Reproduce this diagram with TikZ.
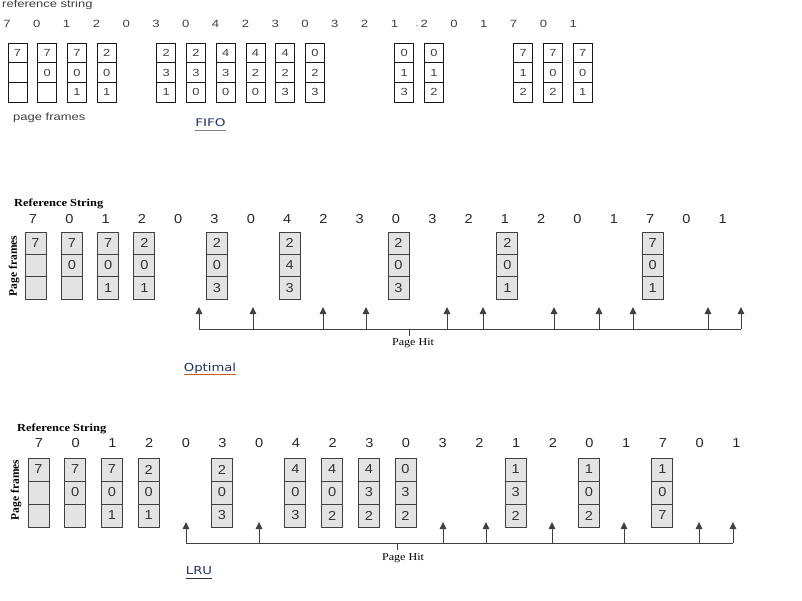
\documentclass[tikz,border=0pt]{standalone}
\usepackage{fontspec}
\usetikzlibrary{arrows.meta}
\newfontfamily\fifof[FakeStretch=1.25]{Liberation Sans}
\newfontfamily\fifolblf[FakeStretch=1.3]{DejaVu Sans}
\newfontfamily\numf[FakeStretch=1.12]{Liberation Sans}
\newfontfamily\serf[FakeStretch=1.15]{Liberation Serif}
\newfontfamily\servf{Liberation Serif}
\newfontfamily\lblf[FakeStretch=1.2]{DejaVu Sans}
\definecolor{navy}{HTML}{1F3468}
\definecolor{ulorange}{HTML}{C0601A}
\definecolor{cellgray}{HTML}{E3E3E3}
\definecolor{linegray}{HTML}{404040}
\begin{document}
\begin{tikzpicture}[x=1pt,y=-1pt,
  fifocell/.style={draw=black!90, line width=0.95pt, fill=white, minimum width=19pt, minimum height=19.67pt, inner sep=0pt, font=\fifof\fontsize{10.3}{11}\selectfont, text=black!75},
  cell/.style={draw=black!75, line width=1pt, fill=cellgray, minimum width=21pt, minimum height=22.33pt, inner sep=0pt, font=\numf\fontsize{13}{13}\selectfont, text=black!80},
  lrucell/.style={cell, minimum height=23pt},
  fifodigit/.style={inner sep=0pt, font=\fifof\fontsize{10.5}{11}\selectfont, text=black!75},
  digit/.style={inner sep=0pt, font=\numf\fontsize{13}{13}\selectfont, text=black!85},
  fifotext/.style={inner sep=0pt, font=\fifof\fontsize{10.4}{11}\selectfont, text=black!75},
  reftext/.style={inner sep=0pt, font=\serf\bfseries\fontsize{10.8}{11}\selectfont, text=black},
  hittext/.style={inner sep=0pt, font=\serf\fontsize{10.5}{11}\selectfont, text=black},
  pftext/.style={inner sep=0pt, rotate=90, font=\servf\bfseries\fontsize{11.5}{12}\selectfont, text=black},
  seclbl/.style={inner sep=0pt, font=\lblf\fontsize{11}{12}\selectfont, text=navy},
  hitline/.style={draw=linegray, line width=1pt},
  hitarrow/.style={draw=linegray, line width=1pt, -{Triangle[width=6.5pt,length=7pt]}}
]
\useasboundingbox (0,0) rectangle (802,600);

% ================= FIFO =================
\node[fifotext, anchor=west] (fref) at (2,5) {reference string};
\foreach \d [count=\i from 0] in {7,0,1,2,0,3,0,4,2,3,0,3,2,1,2,0,1,7,0,1}
  \node[fifodigit] (fd\i) at ({7+29.8*\i},24) {\d};
\node[fifodigit, text=black!40] (fdot) at (417,26) {.};
\foreach \i/\a/\b/\c in {0/7//,1/7/0/,2/7/0/1,3/2/0/1,5/2/3/1,6/2/3/0,7/4/3/0,8/4/2/0,9/4/2/3,10/0/2/3,13/0/1/3,14/0/1/2,17/7/1/2,18/7/0/2,19/7/0/1}{
  \node[fifocell] (fa\i) at ({17.5+29.75*\i},52.83) {\a};
  \node[fifocell] (fb\i) at ({17.5+29.75*\i},72.5) {\b};
  \node[fifocell] (fc\i) at ({17.5+29.75*\i},92.17) {\c};
}
\node[fifotext, anchor=west] (fpf) at (13,118) {page frames};
\node[seclbl, font=\fifolblf\fontsize{10.5}{11}\selectfont] (fifo) at (210.5,123) {FIFO};
\draw[gray, line width=0.8pt] ([yshift=-3.5pt]fifo.base west) -- ([yshift=-3.5pt]fifo.base east);

% ================= Optimal =================
\node[reftext, anchor=west] (oref) at (14,204) {Reference String};
\foreach \d [count=\i from 0] in {7,0,1,2,0,3,0,4,2,3,0,3,2,1,2,0,1,7,0,1}
  \node[digit] (od\i) at ({33+36.3*\i},219) {\d};
\node[pftext] (opf) at (14,266) {Page frames};
\foreach \i/\a/\b/\c in {0/7//,1/7/0/,2/7/0/1,3/2/0/1,5/2/0/3,7/2/4/3,10/2/0/3,13/2/0/1,17/7/0/1}{
  \node[cell] (oa\i) at ({35.5+36.3*\i},243.17) {\a};
  \node[cell] (ob\i) at ({35.5+36.3*\i},265.5) {\b};
  \node[cell] (oc\i) at ({35.5+36.3*\i},287.83) {\c};
}
\foreach \x [count=\k] in {199,253,323,366,447,483,554,599,633,708,741}{
  \coordinate (obase\k) at (\x,329);
  \coordinate (otip\k) at (\x,307);
  \draw[hitarrow] (obase\k) -- (otip\k);
}
\draw[hitline] (obase1) -- (obase11);
\coordinate (otick) at (409,329);
\coordinate (otickend) at (409,336);
\draw[hitline, line width=0.8pt] (otick) -- (otickend);
\node[hittext] (ohit) at (413,343) {Page Hit};
\node[seclbl] (optimal) at (210,368) {Optimal};
\draw[ulorange, line width=0.9pt] ([yshift=-3.5pt]optimal.base west) -- ([yshift=-3.5pt]optimal.base east);

% ================= LRU =================
\node[reftext, anchor=west] (lref) at (17,429) {Reference String};
\foreach \d [count=\i from 0] in {7,0,1,2,0,3,0,4,2,3,0,3,2,1,2,0,1,7,0,1}
  \node[digit] (ld\i) at ({39+36.7*\i},443) {\d};
\node[pftext] (lpf) at (16,490) {Page frames};
\foreach \i/\a/\b/\c in {0/7//,1/7/0/,2/7/0/1,3/2/0/1,5/2/0/3,7/4/0/3,8/4/0/2,9/4/3/2,10/0/3/2,13/1/3/2,15/1/0/2,17/1/0/7}{
  \node[lrucell] (la\i) at ({38.5+36.7*\i},469.5) {\a};
  \node[lrucell] (lb\i) at ({38.5+36.7*\i},492.5) {\b};
  \node[lrucell] (lc\i) at ({38.5+36.7*\i},515.5) {\c};
}
\foreach \x [count=\k] in {186,259,443,486,552,624,699,733}{
  \coordinate (lbase\k) at (\x,543);
  \coordinate (ltip\k) at (\x,522);
  \draw[hitarrow] (lbase\k) -- (ltip\k);
}
\draw[hitline] (lbase1) -- (lbase8);
\coordinate (ltick) at (397,543);
\coordinate (ltickend) at (397,550);
\draw[hitline, line width=0.8pt] (ltick) -- (ltickend);
\node[hittext] (lhit) at (403,558) {Page Hit};
\node[seclbl] (lru) at (199,571) {LRU};
\draw[black!80, line width=0.9pt] ([yshift=-3.5pt]lru.base west) -- ([yshift=-3.5pt]lru.base east);
\end{tikzpicture}
\end{document}
